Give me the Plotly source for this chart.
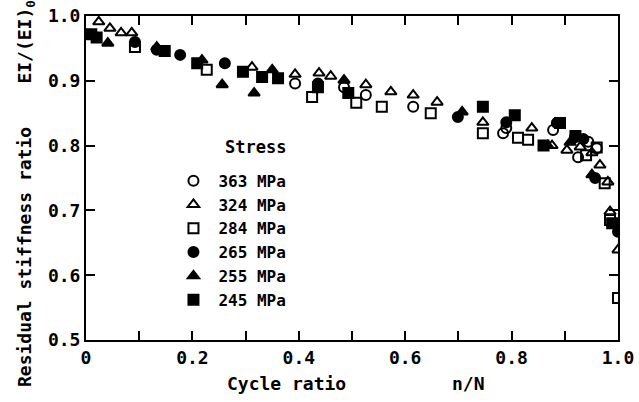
import plotly.graph_objects as go

# ---- data ----
x_363 = [0.393, 0.485, 0.526, 0.615, 0.784, 0.790, 0.878, 0.925, 0.944, 0.960]
y_363 = [0.896, 0.890, 0.878, 0.860, 0.819, 0.827, 0.824, 0.782, 0.806, 0.796]

x_324 = [0.024, 0.045, 0.066, 0.086, 0.312, 0.393, 0.438, 0.460, 0.526, 0.573, 0.615,
         0.660, 0.746, 0.838, 0.876, 0.904, 0.929, 0.951, 0.966, 0.981, 0.985, 1.000]
y_324 = [0.991, 0.981, 0.974, 0.974, 0.921, 0.910, 0.912, 0.907, 0.894, 0.883, 0.878,
         0.867, 0.836, 0.827, 0.800, 0.793, 0.798, 0.789, 0.770, 0.744, 0.698, 0.639]

x_284 = [0.092, 0.227, 0.425, 0.508, 0.556, 0.648, 0.746, 0.812, 0.831, 0.940, 0.960,
         0.975, 0.985, 1.000]
y_284 = [0.952, 0.917, 0.875, 0.866, 0.860, 0.850, 0.819, 0.812, 0.809, 0.785, 0.797,
         0.742, 0.685, 0.565]

x_265 = [0.092, 0.133, 0.177, 0.261, 0.436, 0.699, 0.790, 0.885, 0.919, 0.935, 0.957, 1.000]
y_265 = [0.960, 0.948, 0.940, 0.927, 0.896, 0.844, 0.836, 0.835, 0.813, 0.810, 0.750, 0.667]

x_255 = [0.041, 0.133, 0.218, 0.256, 0.316, 0.350, 0.485, 0.707, 0.868, 0.910, 0.951]
y_255 = [0.958, 0.952, 0.932, 0.894, 0.881, 0.917, 0.901, 0.852, 0.800, 0.805, 0.755]

x_245 = [0.010, 0.020, 0.148, 0.209, 0.295, 0.331, 0.361, 0.436, 0.493, 0.746, 0.806,
         0.860, 0.891, 0.920, 0.989]
y_245 = [0.972, 0.967, 0.946, 0.927, 0.914, 0.906, 0.904, 0.890, 0.881, 0.860, 0.847,
         0.800, 0.835, 0.815, 0.680]

series = [
    ("363 MPa", x_363, y_363, "circle-open"),
    ("324 MPa", x_324, y_324, "triangle-up-open"),
    ("284 MPa", x_284, y_284, "square-open"),
    ("265 MPa", x_265, y_265, "circle"),
    ("255 MPa", x_255, y_255, "triangle-up"),
    ("245 MPa", x_245, y_245, "square"),
]

x_tickvals = [0, 0.1, 0.2, 0.3, 0.4, 0.5, 0.6, 0.7, 0.8, 0.9, 1.0]
x_ticktext = ["0", "", "0.2", "", "0.4", "", "0.6", "", "0.8", "", "1.0"]
y_tickvals = [0.5, 0.6, 0.7, 0.8, 0.9, 1.0]
y_ticktext = ["0.5", "0.6", "0.7", "0.8", "0.9", "1.0"]

FONT = "DejaVu Sans Mono"
W = "bold"

fig = go.Figure()
for name, xs, ys, sym in series:
    fig.add_trace(go.Scatter(
        x=xs, y=ys, mode="markers", name=name,
        marker=dict(symbol=sym, size=10, color="black",
                    line=dict(color="black", width=2)),
    ))

axis_common = dict(
    showline=True, linecolor="black", linewidth=2, mirror="ticks",
    ticks="inside", ticklen=9, tickwidth=2, tickcolor="black",
    showgrid=False, zeroline=False, automargin=False, ticklabeloverflow="allow",
    tickfont=dict(family=FONT, size=18, color="black", weight=W),
)

fig.update_layout(
    width=639, height=402,
    margin=dict(l=86, r=21, t=16, b=62, autoexpand=False),
    paper_bgcolor="white", plot_bgcolor="white",
    font=dict(family=FONT, size=17, color="black", weight=W),
    xaxis=dict(range=[0, 1.0], tickvals=x_tickvals, ticktext=x_ticktext, **axis_common),
    yaxis=dict(range=[0.5, 1.0], tickvals=y_tickvals, ticktext=y_ticktext, **axis_common),
    showlegend=True,
    legend=dict(x=0.155, y=0.544, xanchor="left", yanchor="top", itemwidth=40,
                bgcolor="rgba(0,0,0,0)",
                font=dict(family=FONT, size=16, color="black", weight=W)),
    annotations=[
        dict(text="Stress", xref="paper", yref="paper",
             x=(223 - 86) / 532, y=(340 - 147) / 324, xanchor="left", yanchor="middle",
             showarrow=False, font=dict(family=FONT, size=17, color="black", weight=W)),
        dict(text="Cycle ratio", xref="paper", yref="paper",
             x=(286 - 86) / 532, y=(340 - 383) / 324, xanchor="center", yanchor="middle",
             showarrow=False, font=dict(family=FONT, size=18, color="black", weight=W)),
        dict(text="n/N", xref="paper", yref="paper",
             x=(468 - 86) / 532, y=(340 - 383) / 324, xanchor="center", yanchor="middle",
             showarrow=False, font=dict(family=FONT, size=18, color="black", weight=W)),
        dict(text="Residual stiffness ratio    EI/(EI)<sub>0</sub>", xref="paper", yref="paper",
             x=(26 - 86) / 532, y=(340 - 194) / 324, xanchor="center", yanchor="middle",
             textangle=-90, showarrow=False,
             font=dict(family=FONT, size=18, color="black", weight=W)),
    ],
)

fig.write_html("out.html",
               config={"displayModeBar": False},
               post_script="document.body.style.margin='0';document.body.style.padding='0';")
